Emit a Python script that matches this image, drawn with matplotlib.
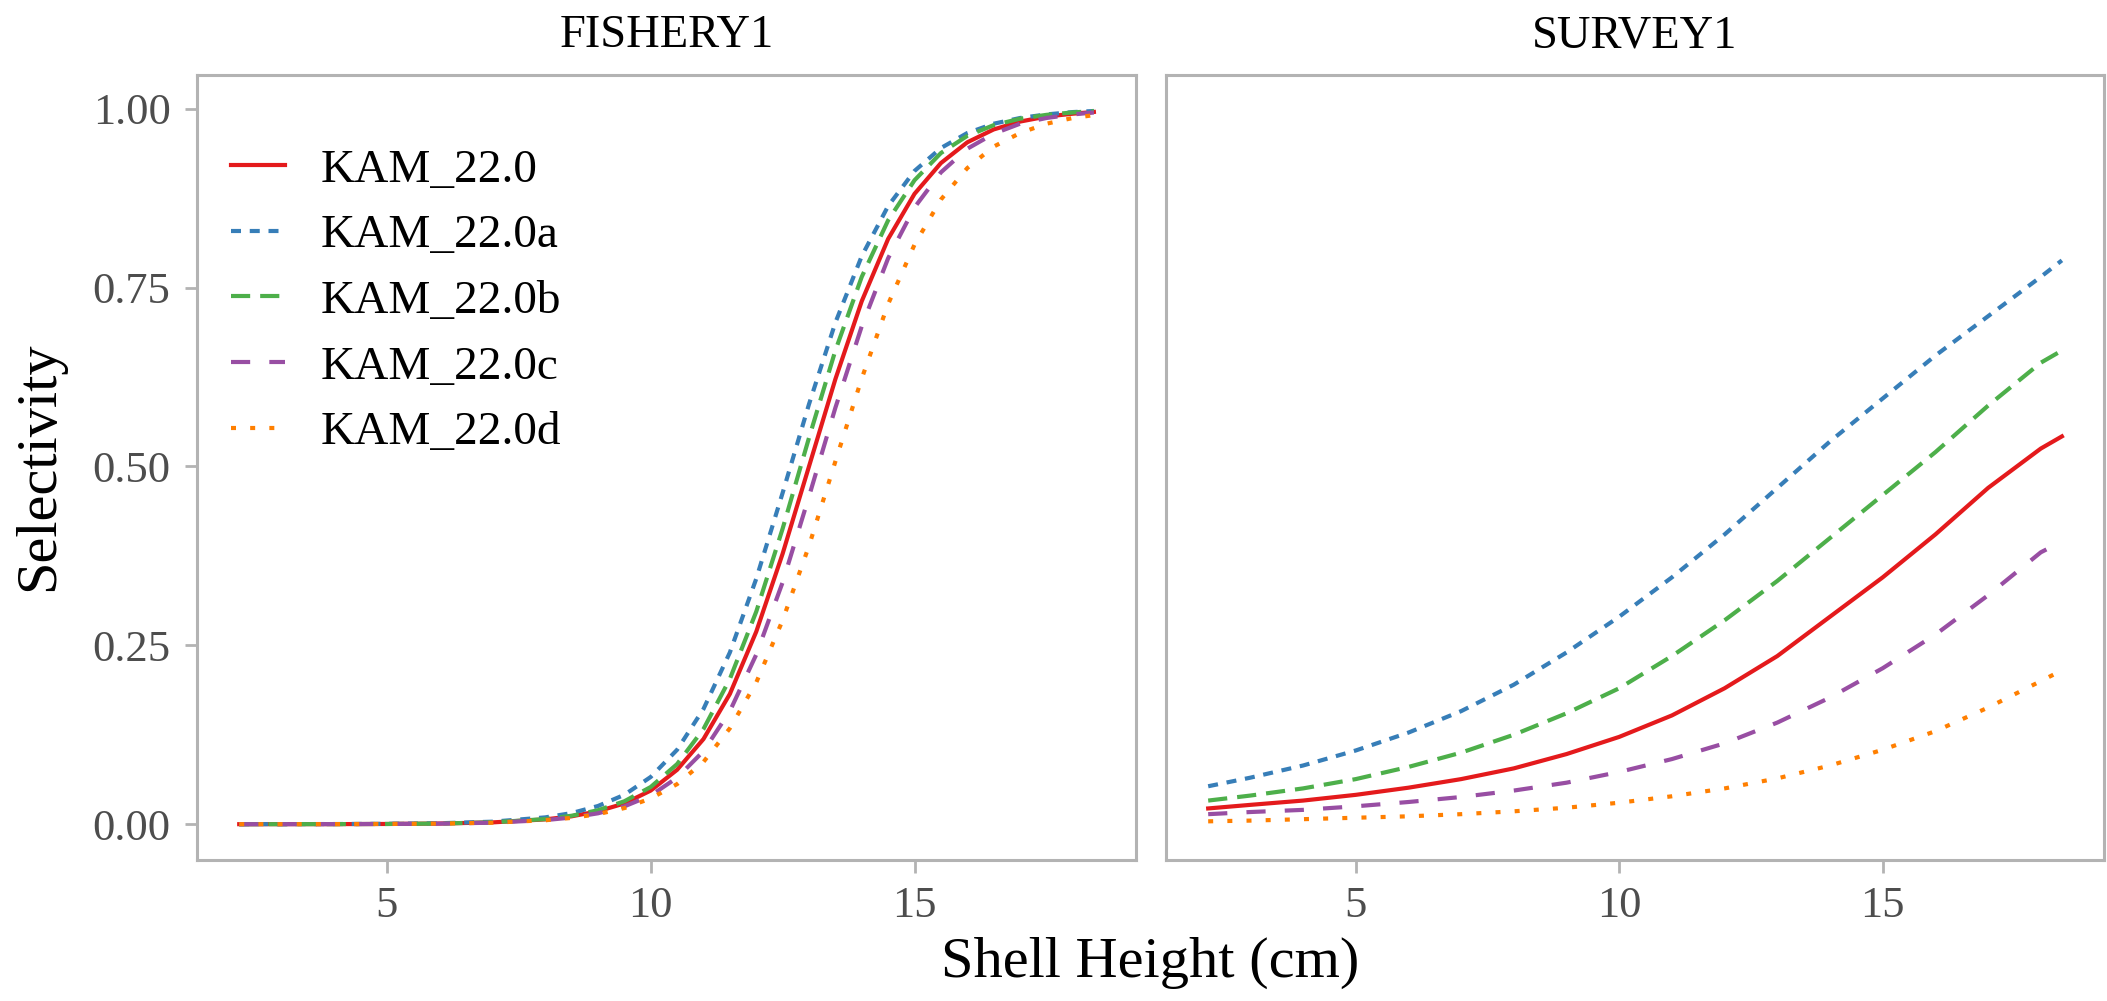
import matplotlib
matplotlib.use('Agg')
import matplotlib.pyplot as plt
import numpy as np

plt.rcParams['font.family'] = ['Liberation Serif', 'DejaVu Serif']

labels = ['KAM_22.0', 'KAM_22.0a', 'KAM_22.0b', 'KAM_22.0c', 'KAM_22.0d']
colors = ['#E41A1C', '#377EB8', '#4DAF4A', '#984EA3', '#FF7F00']
dash_styles = ['-', (0, (2.4, 2.1)), (0, (4.6, 2.4)), (0, (4.6, 4.6)), (0, (1.2, 3.4))]

# FISHERY1
fish_x = [2.2, 3, 4, 5, 6, 7, 8, 8.5, 9, 9.5, 10, 10.5, 11, 11.5, 12, 12.5,
          13, 13.5, 14, 14.5, 15, 15.5, 16, 16.5, 17, 17.5, 18, 18.4]
fish_base = [0.0, 0.0001, 0.0001, 0.0003, 0.0009, 0.0025, 0.0067, 0.011, 0.018, 0.029,
             0.047, 0.076, 0.119, 0.182, 0.269, 0.378, 0.500, 0.622, 0.731, 0.818,
             0.881, 0.924, 0.953, 0.971, 0.982, 0.989, 0.993, 0.9955]
fish_a = [0.0, 0.0001, 0.0002, 0.0005, 0.0013, 0.0035, 0.0095, 0.0155, 0.0254, 0.041,
          0.066, 0.104, 0.161, 0.240, 0.343, 0.463, 0.587, 0.701, 0.794, 0.864,
          0.913, 0.945, 0.966, 0.979, 0.987, 0.992, 0.9953, 0.9968]
fish_b = [0.0, 0.0, 0.0001, 0.0003, 0.0009, 0.0026, 0.0071, 0.0118, 0.0195, 0.032,
          0.052, 0.084, 0.133, 0.203, 0.297, 0.413, 0.540, 0.662, 0.765, 0.844,
          0.900, 0.938, 0.962, 0.977, 0.986, 0.9914, 0.9948, 0.9966]
fish_c = [0.0, 0.0, 0.0001, 0.0003, 0.0008, 0.0021, 0.0057, 0.0093, 0.0152, 0.0249,
          0.040, 0.065, 0.102, 0.158, 0.237, 0.338, 0.458, 0.582, 0.696, 0.791,
          0.862, 0.911, 0.944, 0.965, 0.979, 0.987, 0.992, 0.9947]
fish_d = [0.0, 0.0, 0.0001, 0.0003, 0.0008, 0.0021, 0.0055, 0.0088, 0.014, 0.0225,
          0.036, 0.056, 0.087, 0.134, 0.198, 0.285, 0.389, 0.507, 0.623, 0.727,
          0.810, 0.873, 0.917, 0.947, 0.966, 0.979, 0.987, 0.991]

# SURVEY1
surv_x = [2.2, 3, 4, 5, 6, 7, 8, 9, 10, 11, 12, 13, 14, 15, 16, 17, 18, 18.4]
surv_base = [0.022, 0.027, 0.033, 0.041, 0.051, 0.063, 0.078, 0.098, 0.122, 0.152,
             0.190, 0.235, 0.290, 0.345, 0.405, 0.470, 0.525, 0.542]
surv_a = [0.053, 0.065, 0.082, 0.103, 0.128, 0.158, 0.195, 0.240, 0.290, 0.345,
          0.405, 0.470, 0.535, 0.595, 0.655, 0.710, 0.765, 0.788]
surv_b = [0.033, 0.040, 0.050, 0.063, 0.080, 0.100, 0.125, 0.155, 0.190, 0.235,
          0.285, 0.340, 0.400, 0.460, 0.520, 0.585, 0.645, 0.662]
surv_c = [0.014, 0.017, 0.020, 0.025, 0.031, 0.038, 0.047, 0.058, 0.073, 0.091,
          0.113, 0.142, 0.177, 0.218, 0.265, 0.320, 0.380, 0.395]
surv_d = [0.004, 0.005, 0.007, 0.009, 0.011, 0.014, 0.018, 0.023, 0.030, 0.039,
          0.050, 0.064, 0.082, 0.104, 0.130, 0.163, 0.200, 0.215]

panels = [
    ('FISHERY1', fish_x, [fish_base, fish_a, fish_b, fish_c, fish_d]),
    ('SURVEY1', surv_x, [surv_base, surv_a, surv_b, surv_c, surv_d]),
]

fig = plt.figure(figsize=(21.07, 10.01), dpi=100)
ax1 = fig.add_axes([0.0935, 0.1409, 0.4457, 0.7841])
ax2 = fig.add_axes([0.5534, 0.1409, 0.4452, 0.7841], sharey=ax1)
axes = [ax1, ax2]

for ax, (title, xs, series) in zip(axes, panels):
    for ys, lab, col, ls in zip(series, labels, colors, dash_styles):
        ax.plot(xs, ys, color=col, linestyle=ls, linewidth=3.0, label=lab,
                dash_capstyle='butt')
    ax.set_xlim(1.4, 19.2)
    ax.set_ylim(-0.05, 1.047)
    ax.set_xticks([5, 10, 15])
    ax.set_title(title, fontsize=33.5, pad=20)
    for sp in ax.spines.values():
        sp.set_color('#B3B3B3')
        sp.set_linewidth(2.2)
    ax.tick_params(axis='both', colors='#B3B3B3', length=9, width=2,
                   labelcolor='#4D4D4D', labelsize=32, pad=10)

ax1.set_yticks([0, 0.25, 0.5, 0.75, 1.0])
ax1.set_yticklabels(['0.00', '0.25', '0.50', '0.75', '1.00'])
ax2.tick_params(axis='y', left=False, labelleft=False)

fig.text(0.01875, 0.5345, 'Selectivity', fontsize=42, rotation=90,
         ha='center', va='center')
fig.text(0.5458, 0.024, 'Shell Height (cm)', fontsize=42, ha='center', va='baseline')

ax1.legend(loc='upper left', bbox_to_anchor=(0.036, 0.9065), frameon=False,
           fontsize=34, handlelength=1.15, handletextpad=0.76, labelspacing=0.48,
           borderaxespad=0.0, borderpad=0.0)

fig.savefig('out.png', dpi=100)
